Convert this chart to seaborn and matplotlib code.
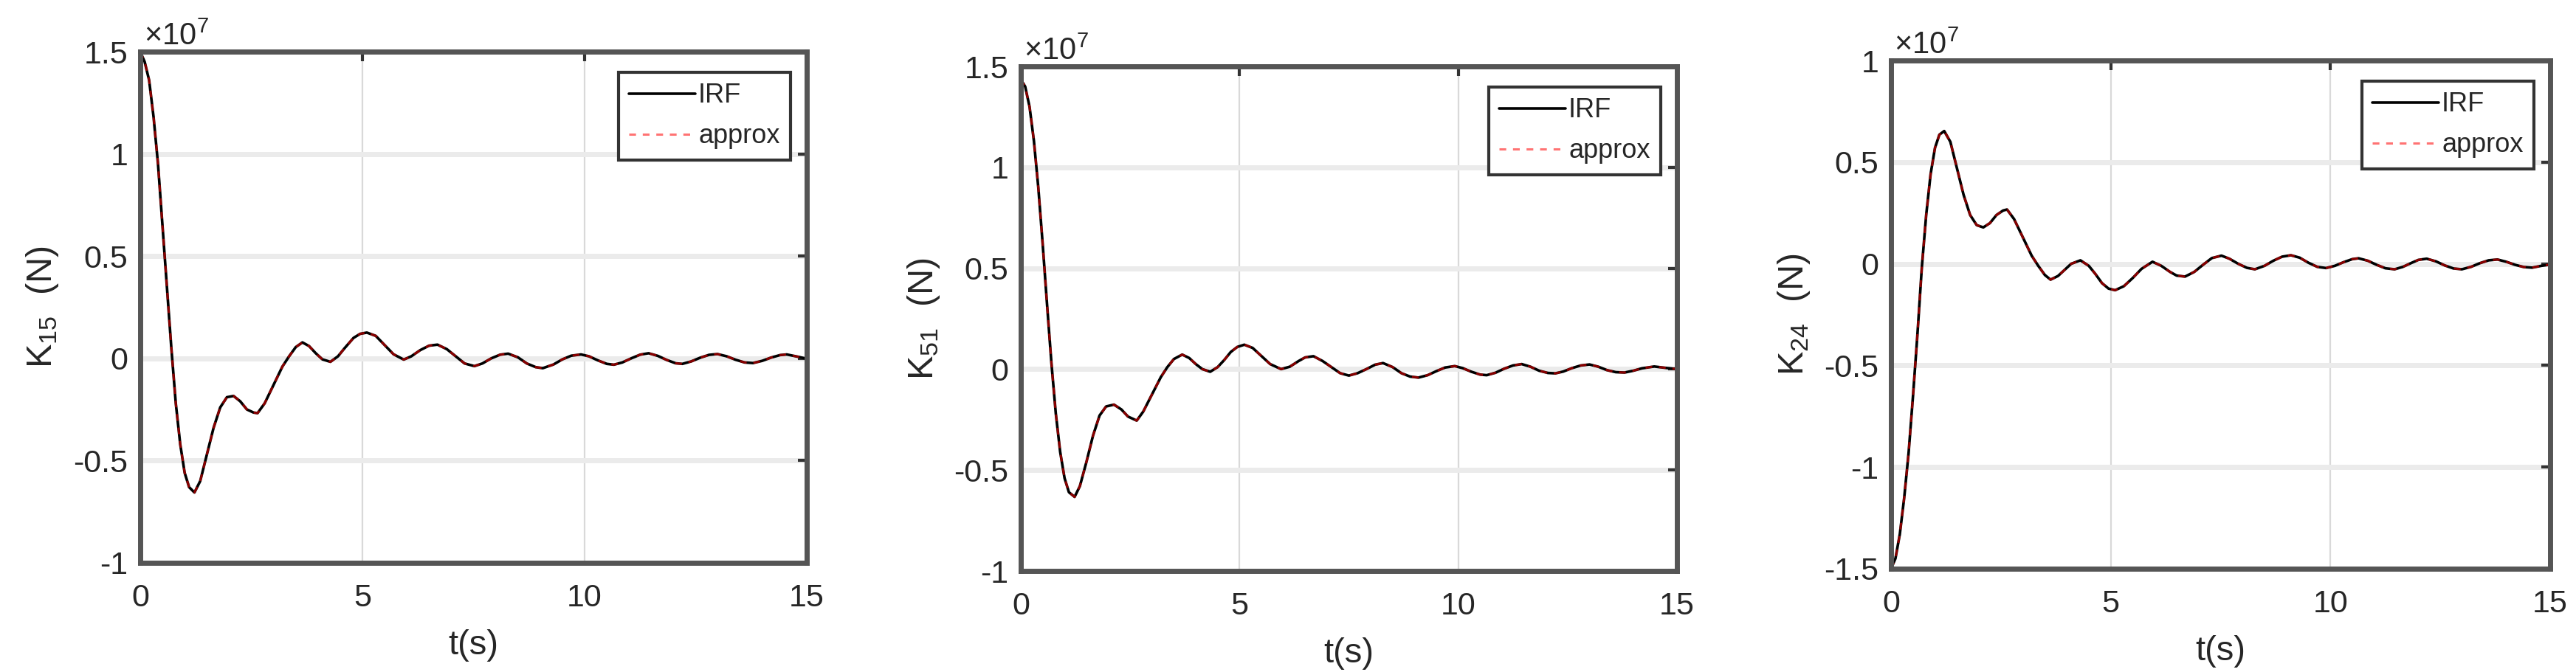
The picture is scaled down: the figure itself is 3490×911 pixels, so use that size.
import matplotlib
matplotlib.use("Agg")
import matplotlib.pyplot as plt
import seaborn as sns
import numpy as np
from matplotlib.ticker import FuncFormatter

# values, in units of 1e7 N
t15 = [0, 0.1, 0.2, 0.3, 0.4, 0.5, 0.6, 0.7, 0.8, 0.9, 1.0, 1.1, 1.22, 1.35, 1.5, 1.65, 1.8, 1.95,
       2.1, 2.25, 2.4, 2.55, 2.64, 2.8, 3.0, 3.2, 3.35, 3.5, 3.65, 3.8, 3.95, 4.1, 4.28, 4.45, 4.6,
       4.8, 4.95, 5.1, 5.3, 5.5, 5.7, 5.93, 6.1, 6.3, 6.5, 6.69, 6.9, 7.1, 7.3, 7.52, 7.7, 7.9, 8.1,
       8.28, 8.5, 8.7, 8.9, 9.06, 9.3, 9.5, 9.7, 9.92, 10.1, 10.3, 10.5, 10.66, 10.85, 11.05, 11.25,
       11.44, 11.65, 11.85, 12.05, 12.2, 12.4, 12.6, 12.8, 12.99, 13.2, 13.4, 13.6, 13.79, 14.0,
       14.2, 14.4, 14.55, 14.8, 15.0]
k15 = [1.5, 1.45, 1.36, 1.18, 0.95, 0.65, 0.35, 0.05, -0.22, -0.42, -0.56, -0.63, -0.656, -0.6,
       -0.47, -0.34, -0.24, -0.19, -0.184, -0.21, -0.25, -0.265, -0.268, -0.22, -0.13, -0.04, 0.01,
       0.055, 0.078, 0.06, 0.025, -0.005, -0.017, 0.01, 0.05, 0.1, 0.12, 0.126, 0.11, 0.065, 0.02,
       -0.006, 0.01, 0.04, 0.062, 0.067, 0.045, 0.01, -0.025, -0.038, -0.025, 0.0, 0.018, 0.023,
       0.005, -0.025, -0.043, -0.048, -0.03, -0.005, 0.013, 0.019, 0.01, -0.01, -0.027, -0.031,
       -0.02, 0.0, 0.018, 0.025, 0.012, -0.008, -0.024, -0.027, -0.015, 0.003, 0.017, 0.021, 0.01,
       -0.007, -0.02, -0.023, -0.012, 0.004, 0.016, 0.019, 0.008, -0.002]

t51 = [0, 0.1, 0.2, 0.3, 0.4, 0.5, 0.6, 0.7, 0.8, 0.9, 1.0, 1.1, 1.23, 1.35, 1.5, 1.65, 1.8, 1.95,
       2.13, 2.3, 2.45, 2.65, 2.8, 3.0, 3.2, 3.35, 3.5, 3.69, 3.85, 4.0, 4.15, 4.33, 4.5, 4.65, 4.8,
       4.95, 5.11, 5.3, 5.5, 5.7, 5.95, 6.15, 6.35, 6.5, 6.69, 6.9, 7.1, 7.3, 7.5, 7.7, 7.9, 8.1,
       8.28, 8.5, 8.7, 8.9, 9.09, 9.3, 9.5, 9.7, 9.92, 10.1, 10.3, 10.5, 10.65, 10.85, 11.05, 11.25,
       11.45, 11.65, 11.85, 12.05, 12.22, 12.4, 12.6, 12.8, 13.0, 13.2, 13.4, 13.6, 13.8, 14.0,
       14.2, 14.48, 14.75, 15.0]
k51 = [1.436, 1.40, 1.30, 1.13, 0.90, 0.62, 0.32, 0.03, -0.22, -0.41, -0.54, -0.61, -0.633, -0.58,
       -0.46, -0.33, -0.23, -0.185, -0.176, -0.2, -0.235, -0.255, -0.21, -0.125, -0.04, 0.01, 0.05,
       0.072, 0.055, 0.025, 0.0, -0.013, 0.01, 0.045, 0.085, 0.11, 0.121, 0.105, 0.065, 0.025, 0.0,
       0.012, 0.04, 0.058, 0.064, 0.04, 0.01, -0.02, -0.032, -0.02, 0.0, 0.022, 0.03, 0.01, -0.02,
       -0.037, -0.042, -0.03, -0.01, 0.008, 0.015, 0.005, -0.013, -0.027, -0.03, -0.018, 0.002,
       0.018, 0.025, 0.012, -0.008, -0.019, -0.021, -0.012, 0.005, 0.018, 0.023, 0.012, -0.005,
       -0.015, -0.017, -0.008, 0.004, 0.013, 0.006, 0.0]

t24 = [0, 0.1, 0.2, 0.3, 0.4, 0.5, 0.6, 0.7, 0.8, 0.9, 1.0, 1.1, 1.21, 1.35, 1.5, 1.65, 1.8, 1.95,
       2.1, 2.25, 2.4, 2.55, 2.64, 2.8, 3.0, 3.2, 3.35, 3.5, 3.63, 3.8, 3.95, 4.1, 4.31, 4.5, 4.65,
       4.8, 4.95, 5.1, 5.3, 5.5, 5.7, 5.95, 6.15, 6.35, 6.5, 6.69, 6.9, 7.1, 7.3, 7.52, 7.7, 7.9,
       8.1, 8.28, 8.5, 8.7, 8.9, 9.1, 9.3, 9.5, 9.7, 9.9, 10.1, 10.3, 10.5, 10.64, 10.85, 11.05,
       11.25, 11.46, 11.65, 11.85, 12.0, 12.19, 12.4, 12.6, 12.8, 12.99, 13.2, 13.4, 13.6, 13.8,
       14.0, 14.2, 14.4, 14.59, 14.8, 15.0]
k24 = [-1.5, -1.45, -1.33, -1.15, -0.93, -0.65, -0.35, -0.02, 0.24, 0.44, 0.57, 0.635, 0.653, 0.6,
       0.47, 0.34, 0.24, 0.19, 0.179, 0.2, 0.24, 0.262, 0.267, 0.22, 0.13, 0.04, -0.01, -0.055,
       -0.078, -0.06, -0.03, 0.0, 0.017, -0.01, -0.05, -0.095, -0.122, -0.13, -0.11, -0.07, -0.025,
       0.01, -0.01, -0.04, -0.058, -0.063, -0.04, -0.005, 0.028, 0.04, 0.025, 0.0, -0.02, -0.027,
       -0.01, 0.015, 0.035, 0.042, 0.03, 0.005, -0.015, -0.021, -0.01, 0.008, 0.023, 0.027, 0.015,
       -0.005, -0.022, -0.027, -0.015, 0.005, 0.019, 0.025, 0.012, -0.008, -0.023, -0.027, -0.015,
       0.003, 0.017, 0.021, 0.01, -0.005, -0.016, -0.019, -0.01, -0.004]

# the approximation lies on top of the IRF in the picture
panels = [
    ("15", t15, k15, k15, (-1.0, 1.5)),
    ("51", t51, k51, k51, (-1.0, 1.5)),
    ("24", t24, k24, k24, (-1.5, 1.0)),
]
# axes boxes in pixels: left, right, top, bottom
boxes = [(190, 1093, 70, 763), (1383, 2272, 90, 774), (2562, 3455, 82, 771)]

W, H = 3491, 911
SCALE = 1e7

sns.set_theme(style="white")
plt.rcParams["font.family"] = ["Liberation Sans", "DejaVu Sans"]
plt.rcParams["mathtext.default"] = "regular"

fig = plt.figure(figsize=(W / 100, H / 100), dpi=100)
txt = "#262626"

for (idx, t, irf, approx, ylim), (l, r, tp, b) in zip(panels, boxes):
    ax = fig.add_axes([l / W, (H - b) / H, (r - l) / W, (b - tp) / H])

    sns.lineplot(x=t, y=np.array(irf) * SCALE, ax=ax, color="black", lw=2.6,
                 label="IRF", sort=False)
    sns.lineplot(x=t, y=np.array(approx) * SCALE, ax=ax, color="red", lw=2.2,
                 alpha=0.55, linestyle=(0, (3, 3)), label="approx", sort=False)

    ax.set_xlim(0, 15)
    ax.set_ylim(ylim[0] * SCALE, ylim[1] * SCALE)
    ax.set_xticks([0, 5, 10, 15])
    ax.set_yticks(np.arange(ylim[0], ylim[1] + 0.01, 0.5) * SCALE)
    ax.yaxis.set_major_formatter(FuncFormatter(lambda v, _: f"{v / SCALE:g}"))

    # matlab-like grid: thick pale horizontals, thin verticals
    ax.grid(axis="y", color="#ebebeb", lw=5)
    ax.grid(axis="x", color="#d9d9d9", lw=1.6)
    ax.set_axisbelow(True)

    for s in ax.spines.values():
        s.set_color("#555555")
        s.set_linewidth(5)

    ax.tick_params(direction="in", length=9, width=3, color="#333333",
                   top=True, right=True, labelsize=31, labelcolor=txt)
    ax.tick_params(axis="x", pad=20)
    ax.tick_params(axis="y", pad=12)

    ax.set_xlabel("t(s)", fontsize=34, color=txt, labelpad=16)
    ax.set_ylabel(f"K$_{{{idx}}}$  (N)", fontsize=35, color=txt)
    ax.yaxis.set_label_coords(-0.12, 0.5)

    ax.text(0.005, 1.0, r"$\times$10$^7$", transform=ax.transAxes, fontsize=30,
            color=txt, ha="left", va="bottom")

    pw, ph = r - l, b - tp
    leg = ax.legend(loc="upper right", bbox_to_anchor=(1 - 22 / pw, 1 - 28 / ph),
                    borderaxespad=0, fontsize=26, frameon=True, fancybox=False,
                    handlelength=2.5, handletextpad=0.1, labelspacing=0.55,
                    borderpad=0.4)
    leg.get_frame().set_edgecolor("#333333")
    leg.get_frame().set_linewidth(3)
    leg.get_frame().set_alpha(1)

fig.savefig("out.png", dpi=100)
